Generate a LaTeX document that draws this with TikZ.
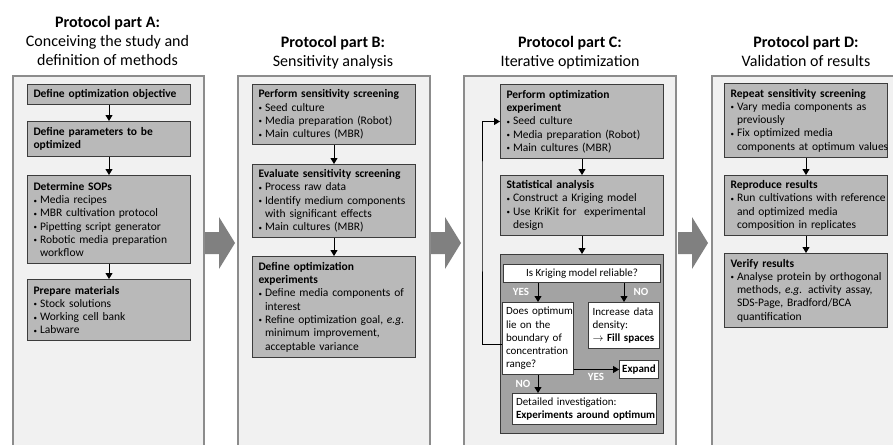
\documentclass[tikz,border=0pt]{standalone}
\usepackage{fontspec}
\setmainfont{Carlito}
\usetikzlibrary{arrows.meta}
\definecolor{panelfill}{HTML}{F1F1F1}
\definecolor{panelline}{HTML}{8C8C8C}
\definecolor{boxfill}{HTML}{B9B9B9}
\definecolor{boxline}{HTML}{3C3C3C}
\definecolor{contfill}{HTML}{A3A3A3}
\definecolor{bigarrow}{HTML}{808080}
\newcommand{\bl}[1]{\mbox{\makebox[6.5pt][l]{\raisebox{0.5pt}{\fontsize{7}{7}\selectfont\textbullet}}#1}}
\newcommand{\cl}[1]{\mbox{\hspace*{6.5pt}#1}}
\newcommand{\hd}[1]{\mbox{\textbf{#1}}}
\tikzset{
  panel/.style={draw=panelline, fill=panelfill, line width=2pt, anchor=north west, inner sep=0pt},
  titletext/.style={anchor=base, inner sep=0pt, font=\fontsize{16}{19}\selectfont},
  stepbox/.style={draw=boxline, fill=boxfill, line width=1pt, anchor=north west, align=left,
    inner xsep=6pt, inner ysep=0pt, text width=151pt, minimum height=#1,
    font=\fontsize{11.5}{13.3}\selectfont},
  whitebox/.style={draw=boxline, fill=white, line width=1pt, inner ysep=0pt,
    font=\fontsize{11}{13.3}\selectfont},
  contbox/.style={draw=boxline, fill=contfill, line width=1pt, anchor=north west, inner sep=0pt},
  lab/.style={text=white, font=\fontsize{11}{12}\selectfont\bfseries, inner sep=0pt},
  conn/.style={-{Triangle[length=6pt,width=7pt]}, line width=0.9pt, black},
}
\begin{document}
\begin{tikzpicture}[x=1pt,y=-1pt]
\useasboundingbox (0,0) rectangle (893,444);
\clip (0,0) rectangle (893,444);
\fill[white] (0,0) rectangle (893,444);

% titles
\node[titletext] (tA1) at (107.5,28) {\textbf{Protocol part A:}};
\node[titletext] (tA2) at (107.5,47) {Conceiving the study and};
\node[titletext] (tA3) at (107.5,66) {definition of methods};
\node[titletext] (tB1) at (333,48) {\textbf{Protocol part B:}};
\node[titletext] (tB2) at (333,66.5) {Sensitivity analysis};
\node[titletext] (tC1) at (570,48) {\textbf{Protocol part C:}};
\node[titletext] (tC2) at (570,66.5) {Iterative optimization};
\node[titletext] (tD1) at (806,48) {\textbf{Protocol part D:}};
\node[titletext] (tD2) at (806,66.5) {Validation of results};

% panels
\node[panel, minimum width=191pt, minimum height=390pt] (pA) at (12,75) {};
\node[panel, minimum width=192pt, minimum height=390pt] (pB) at (237,75) {};
\node[panel, minimum width=212pt, minimum height=390pt] (pC) at (463,75) {};
\node[panel, minimum width=200pt, minimum height=390pt] (pD) at (711,75) {};

% big arrows
\foreach \x in {205,431,678}{
  \fill[bigarrow] (\x,232) -- (\x+14,232) -- (\x+14,217) -- (\x+30,243) -- (\x+14,269) -- (\x+14,254) -- (\x,254) -- cycle;
}

% part A
\node[stepbox=20pt] (a1) at (27,84) {\hd{Define optimization objective}};
\node[stepbox=35pt] (a2) at (27,121) {\hd{Define parameters to be}\\\hd{optimized}};
\node[stepbox=88pt] (a3) at (27,175) {\hd{Determine SOPs}\\\bl{Media recipes}\\\bl{MBR cultivation protocol}\\\bl{Pipetting script generator}\\\bl{Robotic media preparation}\\\cl{workflow}};
\node[stepbox=61pt] (a4) at (27,279) {\hd{Prepare materials}\\\bl{Stock solutions}\\\bl{Working cell bank}\\\bl{Labware}};
\draw[conn] (a1) -- (a2);
\draw[conn] (a2) -- (a3);
\draw[conn] (a3) -- (a4);

% part B
\node[stepbox=60pt] (b1) at (252,84) {\hd{Perform sensitivity screening}\\\bl{Seed culture}\\\bl{Media preparation (Robot)}\\\bl{Main cultures (MBR)}};
\node[stepbox=73pt] (b2) at (252,164) {\hd{Evaluate sensitivity screening}\\\bl{Process raw data}\\\bl{Identify medium components}\\\cl{with significant effects}\\\bl{Main cultures (MBR)}};
\node[stepbox=101pt] (b3) at (252,256) {\hd{Define optimization}\\\hd{experiments}\\\bl{Define media components of}\\\cl{interest}\\\bl{Refine optimization goal, \emph{e.g.}}\\\cl{minimum improvement,}\\\cl{acceptable variance}};
\draw[conn] (b1) -- (b2);
\draw[conn] (b2) -- (b3);

% part C
\node[stepbox=74pt] (c1) at (500,84) {\hd{Perform optimization}\\\hd{experiment}\\\bl{Seed culture}\\\bl{Media preparation (Robot)}\\\bl{Main cultures (MBR)}};
\node[stepbox=60pt] (c2) at (500,175) {\hd{Statistical analysis}\\\bl{Construct a Kriging model}\\\bl{Use KriKit for\ \ experimental}\\\cl{design}};
\node[contbox, minimum width=163pt, minimum height=179pt] (cont) at (500,254) {};
\draw[conn] (c1) -- (c2);
\draw[conn] (c2) -- (cont);

\node[whitebox, anchor=north west, minimum width=157pt, minimum height=18pt] (krig) at (503,264) {Is Kriging model reliable?};
\node[whitebox, anchor=north west, align=left, text width=64pt, inner xsep=3.5pt, minimum height=72pt] (does) at (502,302) {\mbox{Does optimum}\\\mbox{lie on the}\\\mbox{boundary of}\\\mbox{concentration}\\\mbox{range?}};
\node[whitebox, anchor=north west, align=left, text width=63pt, inner xsep=4pt, minimum height=46pt] (incr) at (588,302) {\mbox{Increase data}\\\mbox{density:}\\\mbox{$\rightarrow$ \textbf{Fill spaces}}};
\node[whitebox, anchor=north west, minimum width=39pt, minimum height=18pt, inner xsep=1.5pt] (expand) at (619,360) {\textbf{Expand}};
\node[whitebox, anchor=north west, align=left, text width=137pt, inner xsep=3.5pt, minimum height=31pt] (detail) at (512,393) {\mbox{Detailed investigation:}\\\hd{Experiments around optimum}};

\draw[conn] (krig.south -| does.north) -- (does.north);
\draw[conn] (krig.south -| incr.north) -- (incr.north);
\draw[conn] (does.east |- expand.west) -- (expand.west);
\draw[conn] (does.south) -- (does.south |- detail.north);
\node[lab] (yes1) at (521,292) {YES};
\node[lab] (no1) at (641,292) {NO};
\node[lab] (yes2) at (596,377) {YES};
\node[lab] (no2) at (523,384) {NO};

\coordinate (loop) at (482,200);
\draw[conn] ([yshift=-6pt]does.west) -| (loop) |- (c1.west);

% part D
\node[stepbox=74pt] (d1) at (724,83) {\hd{Repeat sensitivity screening}\\\bl{Vary media components as}\\\cl{previously}\\\bl{Fix optimized media}\\\cl{components at optimum values}};
\node[stepbox=60pt] (d2) at (724,175) {\hd{Reproduce results}\\\bl{Run cultivations with reference}\\\cl{and optimized media}\\\cl{composition in replicates}};
\node[stepbox=74pt] (d3) at (724,253) {\hd{Verify results}\\\bl{Analyse protein by orthogonal}\\\cl{methods, \emph{e.g.} activity assay,}\\\cl{SDS-Page, Bradford/BCA}\\\cl{quantification}};
\draw[conn] (d1) -- (d2);
\draw[conn] (d2) -- (d3);
\end{tikzpicture}
\end{document}
